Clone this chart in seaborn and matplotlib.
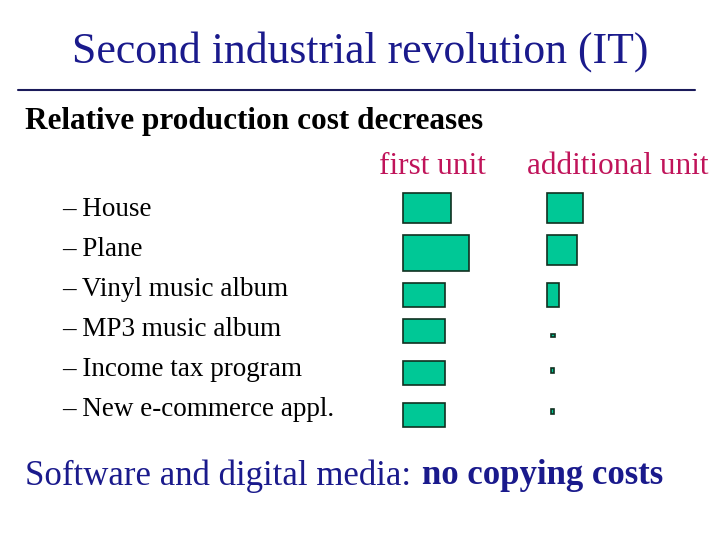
import matplotlib
matplotlib.use("Agg")
import matplotlib.pyplot as plt
import seaborn as sns

# --- data (sizes of the boxes, in slide pixels) ---
items = ["House", "Plane", "Vinyl music album", "MP3 music album",
         "Income tax program", "New e-commerce appl."]
first_w = [48, 66, 42, 42, 42, 42]
first_h = [30, 36, 24, 24, 24, 24]
add_w = [36, 30, 12, 4, 3, 3]
add_h = [30, 30, 24, 3, 5, 5]

sns.set_theme(style="white")
plt.rcParams['font.family'] = ['Liberation Serif', 'DejaVu Serif']

fig = plt.figure(figsize=(7.2, 5.4), dpi=100)
ax = fig.add_axes([0, 0, 1, 1])
ax.set_xlim(0, 720)
ax.set_ylim(540, 0)
ax.axis("off")

navy = "#1a1a8c"
magenta = "#c0145a"
box = "#00c896"

ax.text(360, 52, "Second industrial revolution (IT)", ha="center", va="center",
        fontsize=31.5, color=navy)
ax.plot([18, 695], [90, 90], color="#1a1a5a", lw=1.5)
ax.text(25, 122, "Relative production cost decreases", ha="left", va="center",
        fontsize=22.5, fontweight="bold", color="black")
ax.text(432, 167, "first unit", ha="center", va="center", fontsize=22.5, color=magenta)
ax.text(618, 167, "additional unit", ha="center", va="center", fontsize=22.5, color=magenta)

row_top = [193, 235, 283, 319, 361, 403]
label_y = [209, 249, 290, 330, 370, 410]
for name, y in zip(items, label_y):
    ax.text(62, y, "\u2013 " + name, ha="left", va="center", fontsize=19.5, color="black")

# first unit boxes
ax.barh([t + h / 2 for t, h in zip(row_top, first_h)], first_w, height=first_h,
        left=403, color=box, edgecolor="#103020", linewidth=1.2)
# additional unit boxes (small ones centred lower in the row)
add_y = [208, 250, 295, 335.5, 370.5, 411.5]
lefts = [547, 547, 547, 551, 551, 551]
ax.barh(add_y, add_w, height=add_h, left=lefts, color=box,
        edgecolor="#103020", linewidth=1.2)

t1 = ax.text(25, 476, "Software and digital media: ", ha="left", va="center",
             fontsize=25, color=navy)
fig.canvas.draw()
bb = t1.get_window_extent().transformed(ax.transData.inverted())
ax.text(max(bb.x0, bb.x1) + 2, 476, "no copying costs", ha="left", va="center",
        fontsize=25, fontweight="bold", color=navy)

fig.savefig("out.png", dpi=100)
